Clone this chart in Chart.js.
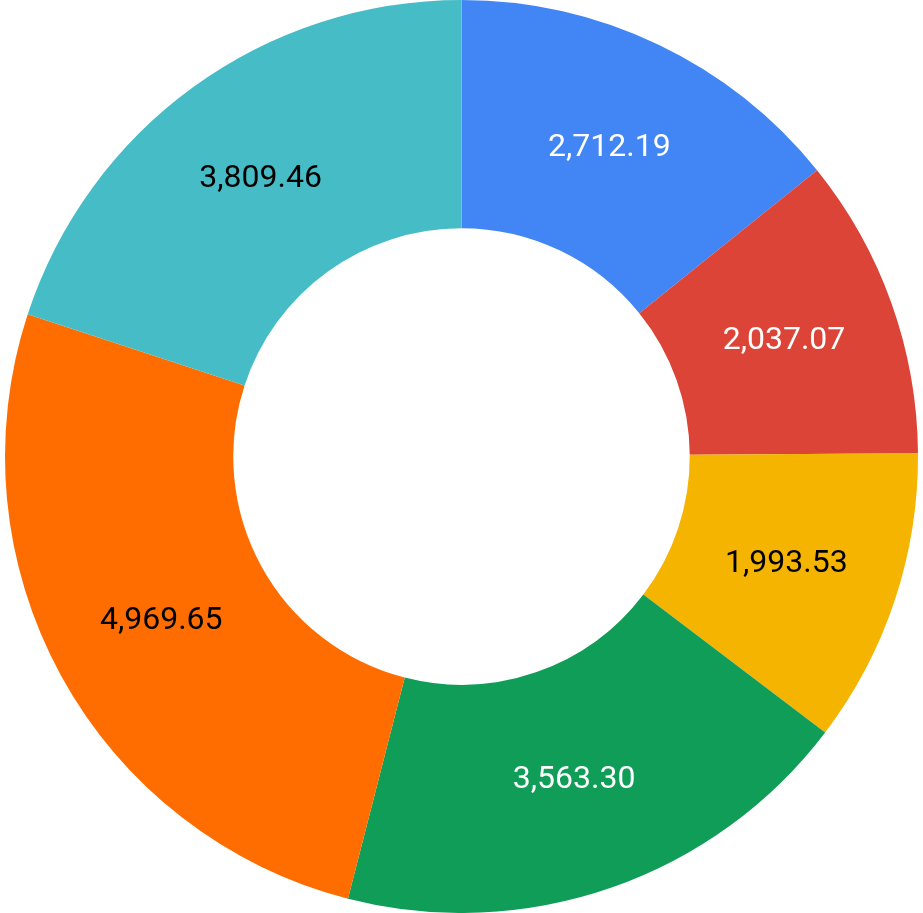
<!DOCTYPE html>
<html>
<head>
<meta charset="utf-8">
<script src="https://cdn.jsdelivr.net/npm/chart.js@4/dist/chart.umd.min.js"></script>
<style>
html,body{margin:0;padding:0;background:#fff;}
#wrap{width:923px;height:913px;}
</style>
</head>
<body>
<div id="wrap"><canvas id="c" width="923" height="913"></canvas></div>
<script>
const categories = ["A", "B", "C", "D", "E", "F"];
const values = [2712.19, 2037.07, 1993.53, 3563.30, 4969.65, 3809.46];
const colors = ["#4285F4", "#DB4437", "#F4B400", "#0F9D58", "#FF6D00", "#46BDC6"];
const labelColors = ["#ffffff", "#ffffff", "#000000", "#ffffff", "#000000", "#000000"];

const labelPlugin = {
  id: 'sliceLabels',
  afterDatasetsDraw(chart) {
    const ctx = chart.ctx;
    const meta = chart.getDatasetMeta(0);
    ctx.save();
    ctx.font = '400 32px Roboto';
    ctx.textAlign = 'center';
    ctx.textBaseline = 'middle';
    meta.data.forEach((arc, i) => {
      const p = arc.tooltipPosition();
      ctx.fillStyle = labelColors[i];
      const txt = values[i].toLocaleString('en-US', {minimumFractionDigits: 2, maximumFractionDigits: 2});
      ctx.fillText(txt, p.x, p.y);
    });
    ctx.restore();
  }
};

new Chart(document.getElementById('c'), {
  type: 'doughnut',
  data: {
    labels: categories,
    datasets: [{
      data: values,
      backgroundColor: colors,
      borderWidth: 0
    }]
  },
  options: {
    responsive: false,
    animation: false,
    cutout: '50%',
    layout: { padding: 0 },
    plugins: { legend: { display: false }, tooltip: { enabled: false } }
  },
  plugins: [labelPlugin]
});
</script>
</body>
</html>
